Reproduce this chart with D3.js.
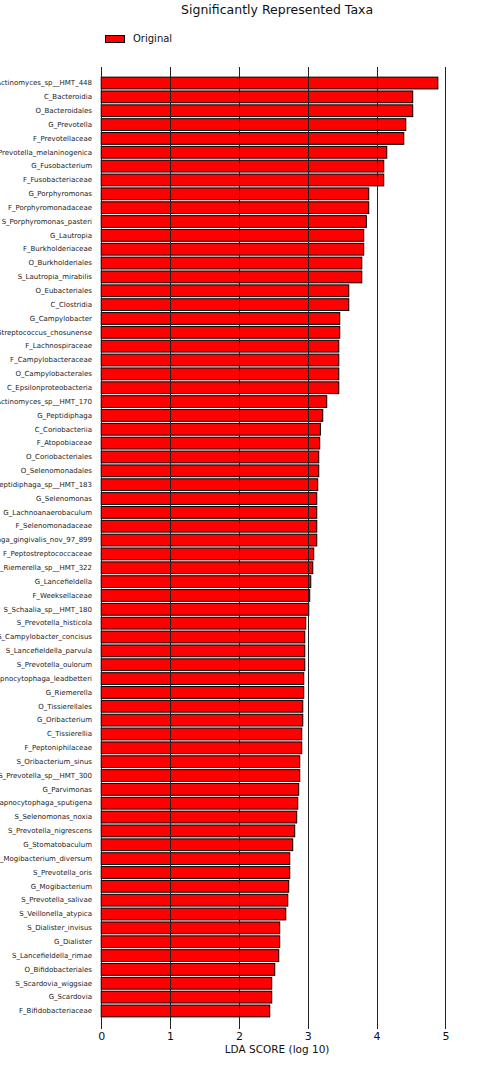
<!DOCTYPE html>
<html>
<head>
<meta charset="utf-8">
<script src="https://cdn.jsdelivr.net/npm/d3@7"></script>
<style>
  body { margin: 0; background: #fff; }
  svg { font-family: "DejaVu Sans", sans-serif; }
</style>
</head>
<body>
<div id="chart"></div>
<script>
// taxa, top to bottom
const taxa = [
  "S_Actinomyces_sp__HMT_448", "C_Bacteroidia", "O_Bacteroidales", "G_Prevotella",
  "F_Prevotellaceae", "S_Prevotella_melaninogenica", "G_Fusobacterium", "F_Fusobacteriaceae",
  "G_Porphyromonas", "F_Porphyromonadaceae", "S_Porphyromonas_pasteri", "G_Lautropia",
  "F_Burkholderiaceae", "O_Burkholderiales", "S_Lautropia_mirabilis", "O_Eubacteriales",
  "C_Clostridia", "G_Campylobacter", "S_Streptococcus_chosunense", "F_Lachnospiraceae",
  "F_Campylobacteraceae", "O_Campylobacterales", "C_Epsilonproteobacteria", "S_Actinomyces_sp__HMT_170",
  "G_Peptidiphaga", "C_Coriobacteriia", "F_Atopobiaceae", "O_Coriobacteriales",
  "O_Selenomonadales", "S_Peptidiphaga_sp__HMT_183", "G_Selenomonas", "G_Lachnoanaerobaculum",
  "F_Selenomonadaceae", "S_Peptidiphaga_gingivalis_nov_97_899", "F_Peptostreptococcaceae", "S_Riemerella_sp__HMT_322",
  "G_Lancefieldella", "F_Weeksellaceae", "S_Schaalia_sp__HMT_180", "S_Prevotella_histicola",
  "S_Campylobacter_concisus", "S_Lancefieldella_parvula", "S_Prevotella_oulorum", "S_Capnocytophaga_leadbetteri",
  "G_Riemerella", "O_Tissierellales", "G_Oribacterium", "C_Tissierellia",
  "F_Peptoniphilaceae", "S_Oribacterium_sinus", "S_Prevotella_sp__HMT_300", "G_Parvimonas",
  "S_Capnocytophaga_sputigena", "S_Selenomonas_noxia", "S_Prevotella_nigrescens", "G_Stomatobaculum",
  "S_Mogibacterium_diversum", "S_Prevotella_oris", "G_Mogibacterium", "S_Prevotella_salivae",
  "S_Veillonella_atypica", "S_Dialister_invisus", "G_Dialister", "S_Lancefieldella_rimae",
  "O_Bifidobacteriales", "S_Scardovia_wiggsiae", "G_Scardovia", "F_Bifidobacteriaceae"
];

// LDA scores
const ldaScores = [
  4.89, 4.525, 4.525, 4.424,
  4.395, 4.148, 4.104, 4.104,
  3.886, 3.886, 3.852, 3.813,
  3.813, 3.785, 3.785, 3.596,
  3.596, 3.465, 3.465, 3.451,
  3.451, 3.451, 3.451, 3.276,
  3.218, 3.184, 3.174, 3.160,
  3.160, 3.145, 3.131, 3.131,
  3.131, 3.131, 3.087, 3.073,
  3.044, 3.029, 3.015, 2.971,
  2.957, 2.957, 2.957, 2.942,
  2.942, 2.928, 2.928, 2.913,
  2.913, 2.884, 2.884, 2.869,
  2.855, 2.840, 2.811, 2.782,
  2.739, 2.739, 2.724, 2.710,
  2.681, 2.593, 2.593, 2.579,
  2.521, 2.477, 2.477, 2.448
];

const xTicks = [0, 1, 2, 3, 4, 5];
const seriesName = "Original";

const W = 504, H = 1069;
const plotLeft = 101.2, plotRight = 453, plotTop = 67, plotBottom = 1029;

const data = taxa.map((t, i) => ({ taxon: t, score: ldaScores[i] }));

const svg = d3.select("#chart").append("svg")
    .attr("width", W)
    .attr("height", H);

const x = d3.scaleLinear()
    .domain([0, 5.11])
    .range([plotLeft, plotRight]);

const y = d3.scaleBand()
    .domain(taxa)
    .range([76.1, 1017.9])
    .paddingInner(0.15)
    .paddingOuter(0.075);

// title
svg.append("text")
    .attr("x", (plotLeft + plotRight) / 2)
    .attr("y", 14)
    .attr("text-anchor", "middle")
    .attr("font-size", 12.5)
    .attr("fill", "#111")
    .text("Significantly Represented Taxa");

// legend
svg.append("rect")
    .attr("x", 105.5).attr("y", 35.5)
    .attr("width", 19).attr("height", 7)
    .attr("fill", "red").attr("stroke", "#000").attr("stroke-width", 1);
svg.append("text")
    .attr("x", 133).attr("y", 42)
    .attr("font-size", 10)
    .attr("fill", "#111")
    .text(seriesName);

// bars
svg.append("g")
  .selectAll("rect")
  .data(data)
  .join("rect")
    .attr("x", x(0))
    .attr("y", d => y(d.taxon))
    .attr("width", d => x(d.score) - x(0))
    .attr("height", y.bandwidth())
    .attr("fill", "red")
    .attr("stroke", "#000")
    .attr("stroke-width", 1);

// vertical grid lines drawn over the bars
svg.append("g")
  .selectAll("line")
  .data(xTicks)
  .join("line")
    .attr("x1", d => Math.round(x(d)) + 0.5)
    .attr("x2", d => Math.round(x(d)) + 0.5)
    .attr("y1", plotTop)
    .attr("y2", plotBottom)
    .attr("stroke", "#222")
    .attr("stroke-width", 1);

// x axis labels
const xAxis = d3.axisBottom(x).tickValues(xTicks).tickFormat(d3.format("d"))
    .tickSize(0).tickPadding(0);
const gx = svg.append("g")
    .attr("transform", `translate(0,${plotBottom})`)
    .call(xAxis);
gx.select(".domain").remove();
gx.selectAll("text")
    .attr("dy", 0)
    .attr("y", 11)
    .attr("font-size", 11)
    .attr("font-family", "DejaVu Sans, sans-serif")
    .attr("fill", "#111");

svg.append("text")
    .attr("x", (plotLeft + plotRight) / 2)
    .attr("y", 1053)
    .attr("text-anchor", "middle")
    .attr("font-size", 10.5)
    .attr("fill", "#111")
    .text("LDA SCORE (log 10)");

// y labels
const yAxis = d3.axisLeft(y).tickSize(0).tickPadding(0);
const gy = svg.append("g")
    .attr("transform", `translate(92,0)`)
    .call(yAxis);
gy.select(".domain").remove();
gy.selectAll("text")
    .attr("font-size", 7)
    .attr("font-family", "DejaVu Sans, sans-serif")
    .attr("fill", "#222");
</script>
</body>
</html>
